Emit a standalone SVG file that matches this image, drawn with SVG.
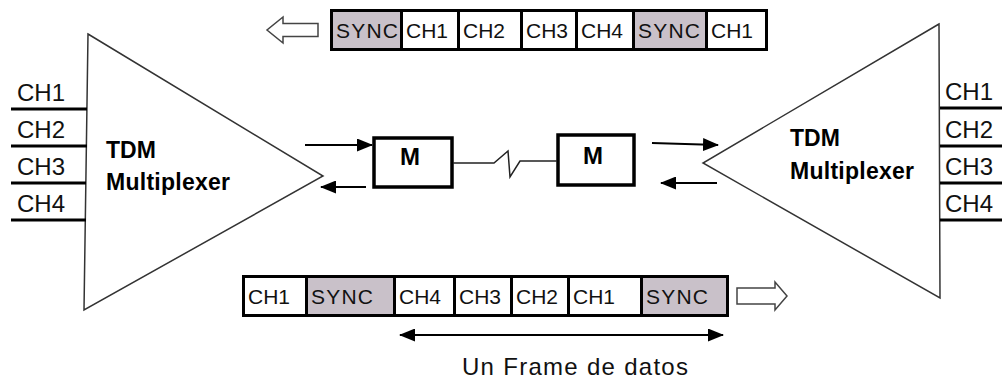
<svg xmlns="http://www.w3.org/2000/svg" width="1002" height="381" viewBox="0 0 1002 381">
  <defs>
    <marker id="head" viewBox="0 0 16 13" refX="15" refY="6.5" markerWidth="16" markerHeight="13" orient="auto-start-reverse" markerUnits="userSpaceOnUse">
      <path d="M0,0 L16,6.5 L0,13 z" fill="#000"/>
    </marker>
    <style>
      .tri { fill: #fff; stroke: #333; stroke-width: 1.5; }
      .chline { stroke: #000; stroke-width: 3; }
      .chlbl { font-family: "Liberation Sans", Arial, sans-serif; font-size: 24px; fill: #111; }
      .mux { font-family: "Liberation Sans", Arial, sans-serif; font-size: 23px; font-weight: bold; fill: #000; }
      .frame { fill: #000; }
      .cell { fill: #fff; }
      .sync { fill: #c9c1c9; }
      .cl { font-family: "Liberation Sans", Arial, sans-serif; font-size: 21px; fill: #111; }
      .box { fill: #fff; stroke: #000; stroke-width: 3.5; }
      .mlbl { font-family: "Liberation Sans", Arial, sans-serif; font-size: 24px; font-weight: bold; fill: #000; }
      .wire { fill: none; stroke: #222; stroke-width: 1.5; }
      .arr { fill: none; stroke: #000; stroke-width: 2; marker-end: url(#head); }
      .hollow { fill: #fff; stroke: #444; stroke-width: 1.5; }
      .caption { font-family: "Liberation Sans", Arial, sans-serif; font-size: 24px; fill: #111; }
    </style>
  </defs>
  <rect width="1002" height="381" fill="#fff"/>

  <!-- left multiplexer -->
  <g id="mux-left">
    <polygon class="tri" points="88,34 323,176 84,310"/>
    <line class="chline" x1="11" y1="109" x2="87" y2="109"/>
    <line class="chline" x1="11" y1="146" x2="87" y2="146"/>
    <line class="chline" x1="11" y1="183" x2="86" y2="183"/>
    <line class="chline" x1="11" y1="220" x2="86" y2="220"/>
    <text class="chlbl" x="17" y="101" textLength="48">CH1</text>
    <text class="chlbl" x="17" y="138" textLength="48">CH2</text>
    <text class="chlbl" x="17" y="175" textLength="48">CH3</text>
    <text class="chlbl" x="17" y="212" textLength="48">CH4</text>
    <text class="mux" x="106" y="158">TDM</text>
    <text class="mux" x="106" y="190" textLength="124">Multiplexer</text>
  </g>

  <!-- right demultiplexer -->
  <g id="mux-right">
    <polygon class="tri" points="939,24 703,163 940,298"/>
    <line class="chline" x1="940" y1="108" x2="1002" y2="108"/>
    <line class="chline" x1="940" y1="146" x2="1002" y2="146"/>
    <line class="chline" x1="940" y1="183" x2="1002" y2="183"/>
    <line class="chline" x1="940" y1="220" x2="1002" y2="220"/>
    <text class="chlbl" x="945" y="100" textLength="48">CH1</text>
    <text class="chlbl" x="945" y="138" textLength="48">CH2</text>
    <text class="chlbl" x="945" y="175" textLength="48">CH3</text>
    <text class="chlbl" x="945" y="212" textLength="48">CH4</text>
    <text class="mux" x="790" y="146">TDM</text>
    <text class="mux" x="790" y="179" textLength="124">Multiplexer</text>
  </g>

  <!-- modems -->
  <g id="modem-left">
    <rect class="box" x="374" y="138" width="78" height="49"/>
    <text class="mlbl" x="410" y="165" text-anchor="middle">M</text>
  </g>
  <g id="modem-right">
    <rect class="box" x="558" y="135" width="76" height="50"/>
    <text class="mlbl" x="593" y="164" text-anchor="middle">M</text>
  </g>

  <!-- outgoing frame (top) -->
  <g id="frame-top">
    <rect class="frame" x="330" y="9" width="438" height="42"/>
    <rect class="sync" x="333" y="12" width="67" height="36"/>
    <rect class="cell" x="403" y="12" width="54" height="36"/>
    <rect class="cell" x="460" y="12" width="60" height="36"/>
    <rect class="cell" x="523" y="12" width="52" height="36"/>
    <rect class="cell" x="578" y="12" width="54" height="36"/>
    <rect class="sync" x="635" y="12" width="70" height="36"/>
    <rect class="cell" x="708" y="12" width="57" height="36"/>
    <text class="cl" x="336" y="38" textLength="62">SYNC</text>
    <text class="cl" x="406" y="38">CH1</text>
    <text class="cl" x="463" y="38">CH2</text>
    <text class="cl" x="526" y="38">CH3</text>
    <text class="cl" x="581" y="38">CH4</text>
    <text class="cl" x="638" y="38" textLength="62">SYNC</text>
    <text class="cl" x="711" y="38">CH1</text>
  </g>

  <!-- incoming frame (bottom) -->
  <g id="frame-bottom">
    <rect class="frame" x="242" y="275" width="487" height="42"/>
    <rect class="cell" x="245" y="278" width="60" height="36"/>
    <rect class="sync" x="308" y="278" width="85" height="36"/>
    <rect class="cell" x="396" y="278" width="57" height="36"/>
    <rect class="cell" x="456" y="278" width="54" height="36"/>
    <rect class="cell" x="513" y="278" width="54" height="36"/>
    <rect class="cell" x="570" y="278" width="70" height="36"/>
    <rect class="sync" x="643" y="278" width="83" height="36"/>
    <text class="cl" x="248" y="304">CH1</text>
    <text class="cl" x="311" y="304" textLength="62">SYNC</text>
    <text class="cl" x="399" y="304">CH4</text>
    <text class="cl" x="459" y="304">CH3</text>
    <text class="cl" x="516" y="304">CH2</text>
    <text class="cl" x="573" y="304">CH1</text>
    <text class="cl" x="646" y="304" textLength="62">SYNC</text>
  </g>

  <!-- direction arrows and link -->
  <g id="connectors">
    <path class="hollow" d="M318,23.5 L283,23.5 L283,17 L267,30 L283,43 L283,36.5 L318,36.5 Z"/>
    <path class="hollow" d="M737,288 L775,288 L775,282 L787,296 L775,310 L775,304 L737,304 Z"/>
    <line class="arr" x1="305" y1="145" x2="372" y2="145"/>
    <line class="arr" x1="366" y1="187" x2="321" y2="187"/>
    <line class="arr" x1="652" y1="143" x2="718" y2="145"/>
    <line class="arr" x1="717" y1="183" x2="661" y2="183"/>
    <polyline class="wire" points="453,163 494,163 508,151 510,177 520,161 557,161"/>
    <line class="arr" x1="400" y1="335" x2="723" y2="335" marker-start="url(#head)"/>
    <text class="caption" x="462" y="375" textLength="226">Un Frame de datos</text>
  </g>
</svg>
